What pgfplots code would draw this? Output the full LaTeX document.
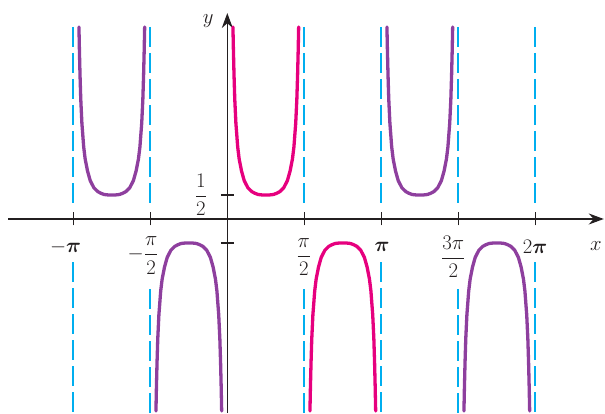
\documentclass[border=0pt]{standalone}
\usepackage{amsmath}
\usepackage{pgfplots}
\pgfplotsset{compat=1.18}
\usepackage{pgfplotstable}
\usetikzlibrary{arrows.meta}
\definecolor{curvepurple}{RGB}{142,63,158}
\definecolor{curvemagenta}{RGB}{230,0,126}
\definecolor{asymcyan}{RGB}{0,174,239}
\definecolor{axisgray}{RGB}{35,31,32}
\tikzset{
  lbl/.style={font=\huge,text=axisgray,inner sep=0pt},
  asym/.style={asymcyan,line width=2pt,dash pattern=on 20pt off 6pt},
  branch/.style={line width=3.3pt,line cap=round}}
\newcommand{\bpi}{\boldsymbol{\pi}}

% branch over (-pi,-pi/2), opening up
\pgfplotstableread{
x y
-3.0266 4.0
-3.0166 3.5
-3.0046 3.0
-2.9896 2.5
-2.9666 2.0
-2.9296 1.5
-2.8996 1.25
-2.8516 1.0
-2.7966 0.8
-2.7216 0.65
-2.6416 0.57
-2.5766 0.535
-2.5116 0.51
-2.4416 0.502
-2.3562 0.5
-2.2708 0.502
-2.2008 0.51
-2.1358 0.535
-2.0708 0.57
-1.9908 0.65
-1.9158 0.8
-1.8608 1.0
-1.8128 1.25
-1.7828 1.5
-1.7458 2.0
-1.7228 2.5
-1.7078 3.0
-1.6958 3.5
-1.6858 4.0
}\brA
% branch over (-pi/2,0), opening down
\pgfplotstableread{
x y
-1.4558 -4.0
-1.4458 -3.5
-1.4338 -3.0
-1.4188 -2.5
-1.3958 -2.0
-1.3588 -1.5
-1.3288 -1.25
-1.2808 -1.0
-1.2258 -0.8
-1.1508 -0.65
-1.0708 -0.57
-1.0058 -0.535
-0.9408 -0.51
-0.8708 -0.502
-0.7854 -0.5
-0.7000 -0.502
-0.6300 -0.51
-0.5650 -0.535
-0.5000 -0.57
-0.4200 -0.65
-0.3450 -0.8
-0.2900 -1.0
-0.2420 -1.25
-0.2120 -1.5
-0.1750 -2.0
-0.1520 -2.5
-0.1370 -3.0
-0.1250 -3.5
-0.1150 -4.0
}\brB
% branch over (0,pi/2), opening up
\pgfplotstableread{
x y
0.1150 4.0
0.1250 3.5
0.1370 3.0
0.1520 2.5
0.1750 2.0
0.2120 1.5
0.2420 1.25
0.2900 1.0
0.3450 0.8
0.4200 0.65
0.5000 0.57
0.5650 0.535
0.6300 0.51
0.7000 0.502
0.7854 0.5
0.8708 0.502
0.9408 0.51
1.0058 0.535
1.0708 0.57
1.1508 0.65
1.2258 0.8
1.2808 1.0
1.3288 1.25
1.3588 1.5
1.3958 2.0
1.4188 2.5
1.4338 3.0
1.4458 3.5
1.4558 4.0
}\brC
% branch over (pi/2,pi), opening down
\pgfplotstableread{
x y
1.6858 -4.0
1.6958 -3.5
1.7078 -3.0
1.7228 -2.5
1.7458 -2.0
1.7828 -1.5
1.8128 -1.25
1.8608 -1.0
1.9158 -0.8
1.9908 -0.65
2.0708 -0.57
2.1358 -0.535
2.2008 -0.51
2.2708 -0.502
2.3562 -0.5
2.4416 -0.502
2.5116 -0.51
2.5766 -0.535
2.6416 -0.57
2.7216 -0.65
2.7966 -0.8
2.8516 -1.0
2.8996 -1.25
2.9296 -1.5
2.9666 -2.0
2.9896 -2.5
3.0046 -3.0
3.0166 -3.5
3.0266 -4.0
}\brD
% branch over (pi,3pi/2), opening up
\pgfplotstableread{
x y
3.2566 4.0
3.2666 3.5
3.2786 3.0
3.2936 2.5
3.3166 2.0
3.3536 1.5
3.3836 1.25
3.4316 1.0
3.4866 0.8
3.5616 0.65
3.6416 0.57
3.7066 0.535
3.7716 0.51
3.8416 0.502
3.9270 0.5
4.0124 0.502
4.0824 0.51
4.1474 0.535
4.2124 0.57
4.2924 0.65
4.3674 0.8
4.4224 1.0
4.4704 1.25
4.5004 1.5
4.5374 2.0
4.5604 2.5
4.5754 3.0
4.5874 3.5
4.5974 4.0
}\brE
% branch over (3pi/2,2pi), opening down
\pgfplotstableread{
x y
4.8274 -4.0
4.8374 -3.5
4.8494 -3.0
4.8644 -2.5
4.8874 -2.0
4.9244 -1.5
4.9544 -1.25
5.0024 -1.0
5.0574 -0.8
5.1324 -0.65
5.2124 -0.57
5.2774 -0.535
5.3424 -0.51
5.4124 -0.502
5.4978 -0.5
5.5832 -0.502
5.6532 -0.51
5.7182 -0.535
5.7832 -0.57
5.8632 -0.65
5.9382 -0.8
5.9932 -1.0
6.0412 -1.25
6.0712 -1.5
6.1082 -2.0
6.1312 -2.5
6.1462 -3.0
6.1582 -3.5
6.1682 -4.0
}\brF

\begin{document}
\begin{tikzpicture}
\begin{axis}[x=49.02pt,y=48pt,axis lines=middle,
  xmin=-4.47,xmax=7.68,ymin=-4.04,ymax=4.29,clip=false,
  axis line style={axisgray,line width=1.1pt,-{Stealth[length=15pt,width=11pt]}},
  xtick={-3.14159,-1.5708,1.5708,3.14159,4.71239,6.28319},ytick={-0.5,0.5},
  xticklabels={},yticklabels={},
  major tick length=13pt,tick align=center,
  tick style={axisgray,line width=1.1pt}]

% vertical asymptotes, broken around the x axis
\addplot[asym] coordinates {(-3.14159,4.0) (-3.14159,0.333)};
\addplot[asym] coordinates {(-3.14159,-0.9) (-3.14159,-4.04)};
\addplot[asym] coordinates {(-1.5708,4.0) (-1.5708,0.333)};
\addplot[asym] coordinates {(-1.5708,-1.46) (-1.5708,-4.04)};
\addplot[asym] coordinates {(1.5708,4.0) (1.5708,0.333)};
\addplot[asym] coordinates {(1.5708,-1.46) (1.5708,-4.04)};
\addplot[asym] coordinates {(3.14159,4.0) (3.14159,0.333)};
\addplot[asym] coordinates {(3.14159,-0.9) (3.14159,-4.04)};
\addplot[asym] coordinates {(4.71239,4.0) (4.71239,0.333)};
\addplot[asym] coordinates {(4.71239,-1.46) (4.71239,-4.04)};
\addplot[asym] coordinates {(6.28319,4.0) (6.28319,0.333)};
\addplot[asym] coordinates {(6.28319,-0.9) (6.28319,-4.04)};

\addplot[branch,curvepurple] table {\brA};
\addplot[branch,curvepurple] table {\brB};
\addplot[branch,curvemagenta] table {\brC};
\addplot[branch,curvemagenta] table {\brD};
\addplot[branch,curvepurple] table {\brE};
\addplot[branch,curvepurple] table {\brF};

\node[lbl] at (axis cs:-3.30,-0.58) {$-\bpi$};
\node[lbl,anchor=east] at (axis cs:-1.40,-0.76) {$-\dfrac{\pi}{2}$};
\node[lbl] at (axis cs:1.56,-0.79) {$\dfrac{\pi}{2}$};
\node[lbl] at (axis cs:3.16,-0.59) {$\bpi$};
\node[lbl] at (axis cs:4.61,-0.79) {$\dfrac{3\pi}{2}$};
\node[lbl] at (axis cs:6.28,-0.59) {$2\bpi$};
\node[lbl] at (axis cs:-0.54,0.5) {$\dfrac{1}{2}$};
\node[lbl] at (axis cs:7.52,-0.56) {$x$};
\node[lbl] at (axis cs:-0.39,4.12) {$y$};

\path (axis cs:-4.637,-4.042) rectangle (axis cs:7.705,4.5625);
\end{axis}
\end{tikzpicture}
\end{document}
